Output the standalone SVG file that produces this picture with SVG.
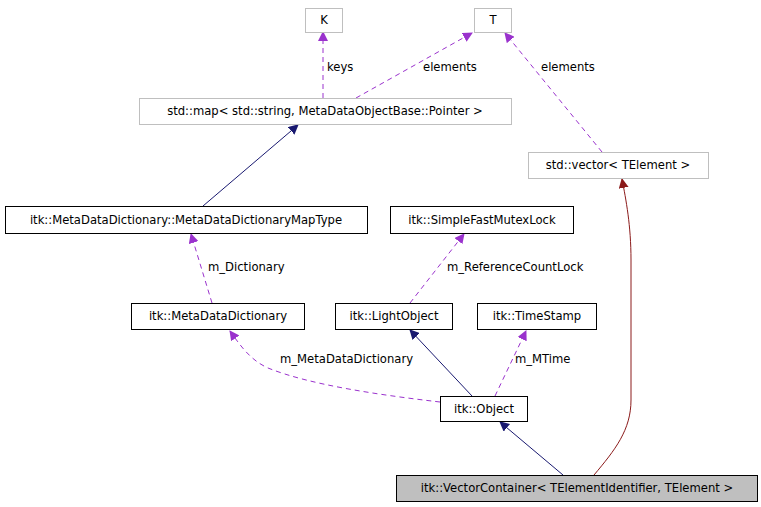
<svg xmlns="http://www.w3.org/2000/svg" width="761" height="507" viewBox="0 0 761 507">
<style>
text{font-family:"DejaVu Sans",sans-serif;font-size:11.6px;fill:#000}
.n{fill:#fff;stroke:#000;stroke-width:1}
.g{fill:#fff;stroke:#bfbfbf;stroke-width:1}
.d{fill:none;stroke:#9a32cd;stroke-dasharray:5,4}
.b{fill:none;stroke:#191970}
.r{fill:none;stroke:#8b1a1a}
.c{text-anchor:middle}
</style>
<defs>
<marker id="ap" markerWidth="10" markerHeight="10" refX="9" refY="5" orient="auto" markerUnits="userSpaceOnUse"><path d="M0,0 L10,5 L0,10 z" fill="#9a32cd"/></marker>
<marker id="ab" markerWidth="10" markerHeight="10" refX="9" refY="5" orient="auto" markerUnits="userSpaceOnUse"><path d="M0,0 L10,5 L0,10 z" fill="#191970"/></marker>
<marker id="ar" markerWidth="10" markerHeight="10" refX="9" refY="5" orient="auto" markerUnits="userSpaceOnUse"><path d="M0,0 L10,5 L0,10 z" fill="#8b1a1a"/></marker>
</defs>
<g id="edges">
<path class="d" d="M323,98 L323,32" marker-end="url(#ap)"/>
<text x="327" y="71">keys</text>
<path class="d" d="M356,98 L472,33" marker-end="url(#ap)"/>
<text x="423" y="71">elements</text>
<path class="d" d="M602,152 L505,33" marker-end="url(#ap)"/>
<text x="541" y="71">elements</text>
<path class="b" d="M203,206 L298,125" marker-end="url(#ab)"/>
<path class="d" d="M212,303 L191,234" marker-end="url(#ap)"/>
<text x="208" y="271">m_Dictionary</text>
<path class="d" d="M410,303 L464,234" marker-end="url(#ap)"/>
<text x="447" y="271">m_ReferenceCountLock</text>
<path class="d" d="M440,402 C380,395 310,385 268,368 C250,360 240,345 230,331" marker-end="url(#ap)"/>
<text x="280" y="363">m_MetaDataDictionary</text>
<path class="b" d="M472,396 L410,330" marker-end="url(#ab)"/>
<path class="d" d="M495,396 L526,331" marker-end="url(#ap)"/>
<text x="515" y="363">m_MTime</text>
<path class="b" d="M563,475 L500,422" marker-end="url(#ab)"/>
<path class="r" d="M594,475 C615,450 631,430 631,400 L631,260 C631,225 626,200 622,179" marker-end="url(#ar)"/>
</g>
<g id="K"><rect class="g" x="305.5" y="8.5" width="37" height="24"/><text class="c" x="324" y="24">K</text></g>
<g id="T"><rect class="g" x="474.5" y="8.5" width="37" height="24"/><text class="c" x="493" y="24">T</text></g>
<g id="map"><rect class="g" x="139.5" y="98.5" width="372" height="26"/><text class="c" x="325" y="115">std::map&lt; std::string, MetaDataObjectBase::Pointer &gt;</text></g>
<g id="vector"><rect class="g" x="528.5" y="152.5" width="180" height="26"/><text class="c" x="618" y="169">std::vector&lt; TElement &gt;</text></g>
<g id="maptype"><rect class="n" x="5.5" y="206.5" width="362" height="27"/><text class="c" x="186" y="224">itk::MetaDataDictionary::MetaDataDictionaryMapType</text></g>
<g id="mutex"><rect class="n" x="390.5" y="206.5" width="183" height="27"/><text class="c" x="482" y="224">itk::SimpleFastMutexLock</text></g>
<g id="mdd"><rect class="n" x="131.5" y="303.5" width="173" height="26"/><text class="c" x="218" y="320">itk::MetaDataDictionary</text></g>
<g id="light"><rect class="n" x="335.5" y="303.5" width="117" height="26"/><text class="c" x="394" y="320">itk::LightObject</text></g>
<g id="ts"><rect class="n" x="477.5" y="303.5" width="119" height="26"/><text class="c" x="537" y="320">itk::TimeStamp</text></g>
<g id="object"><rect class="n" x="440.5" y="396.5" width="87" height="25"/><text class="c" x="484" y="413">itk::Object</text></g>
<g id="vc"><rect x="396.5" y="475.5" width="361" height="26" fill="#bfbfbf" stroke="#000"/><text class="c" x="577" y="492">itk::VectorContainer&lt; TElementIdentifier, TElement &gt;</text></g>
</svg>
